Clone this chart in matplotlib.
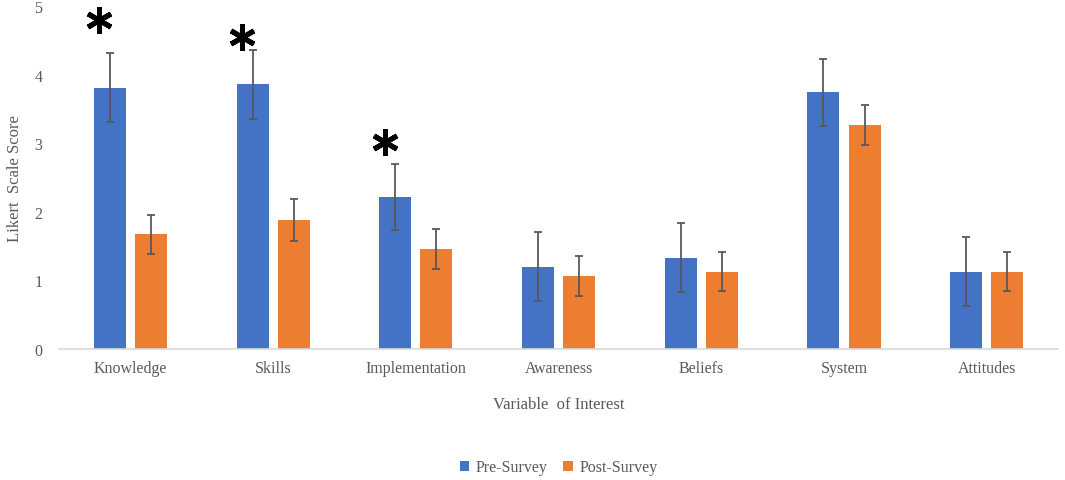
import numpy as np
import matplotlib.pyplot as plt

categories = ['Knowledge', 'Skills', 'Implementation', 'Awareness', 'Beliefs', 'System', 'Attitudes']
pre_mean = [3.81, 3.86, 2.21, 1.20, 1.33, 3.74, 1.13]
pre_err = [0.50, 0.50, 0.48, 0.50, 0.50, 0.49, 0.50]
post_mean = [1.67, 1.88, 1.46, 1.07, 1.13, 3.27, 1.13]
post_err = [0.29, 0.30, 0.29, 0.29, 0.29, 0.29, 0.29]
# significant differences marked with an asterisk
star_idx = [0, 1, 2]
star_y = [4.79, 4.55, 3.02]

plt.rcParams['font.family'] = ['Liberation Serif', 'DejaVu Serif']
grey = '#595959'
blue = '#4472C4'
orange = '#ED7D31'

fig = plt.figure(figsize=(10.65, 4.81), dpi=100)
ax = fig.add_axes([0.0555, 0.2723, 0.938, 0.7131])

x = np.arange(len(categories))
w = 0.224
off = 0.144
ax.bar(x - off, pre_mean, w, color=blue, label='Pre-Survey', zorder=2)
ax.bar(x + off, post_mean, w, color=orange, label='Post-Survey', zorder=2)
ax.errorbar(x - off, pre_mean, yerr=pre_err, fmt='none', ecolor=grey,
            elinewidth=1.3, capsize=3, capthick=1.3, zorder=3)
ax.errorbar(x + off, post_mean, yerr=post_err, fmt='none', ecolor=grey,
            elinewidth=1.3, capsize=3, capthick=1.3, zorder=3)

sx = [x[i] - off - 0.075 for i in star_idx]
ax.plot(sx, star_y, linestyle='none', marker=(6, 2, 0), markersize=19,
        markeredgewidth=3.6, color='black', zorder=4, clip_on=False)

ax.set_xlim(-0.5, len(categories) - 0.5)
ax.set_ylim(0, 5)
ax.set_yticks(range(6))
ax.set_xticks(x)
ax.set_xticklabels(categories)
ax.tick_params(axis='both', length=0, colors=grey, labelsize=11.5)
ax.tick_params(axis='y', pad=12)
ax.tick_params(axis='x', pad=8)
for s in ['top', 'right', 'left']:
    ax.spines[s].set_visible(False)
ax.spines['bottom'].set_color('#d9d9d9')
ax.spines['bottom'].set_linewidth(1.2)

ax.set_ylabel('Likert  Scale Score', color=grey, fontsize=12, labelpad=8)
ax.set_xlabel('Variable  of Interest', color=grey, fontsize=12, labelpad=14)

ax.legend(loc='center', bbox_to_anchor=(0.5, -0.345), ncol=2, frameon=False,
          fontsize=11.5, handlelength=0.6, handleheight=0.6, columnspacing=1.0,
          handletextpad=0.4, labelcolor=grey)

fig.savefig('out.png', dpi=100)
